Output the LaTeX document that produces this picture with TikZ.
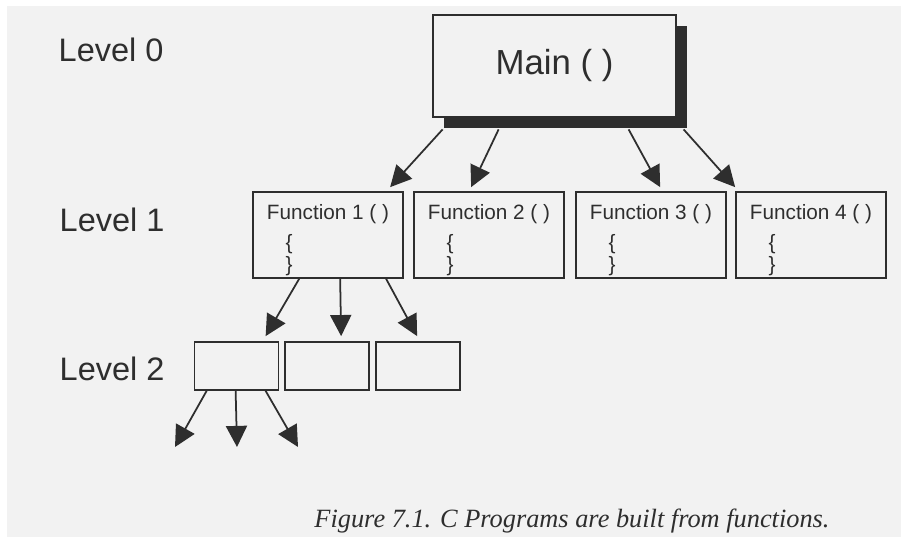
\documentclass[tikz,border=0pt]{standalone}
\usepackage{fontspec}
\setmainfont{Liberation Sans}
\newfontfamily\capfont{Liberation Serif}
\usetikzlibrary{arrows.meta}
\usetikzlibrary{shadows}
\definecolor{ink}{HTML}{2E2E2E}
\definecolor{paper}{HTML}{F2F2F2}
\tikzset{
  every picture/.style={
    line width=1pt, color=ink,
    >={Triangle[width=12pt, length=12pt]}
  },
  level/.style={
    anchor=base west, font=\fontsize{18.5}{22}\selectfont
  },
  mainbox/.style={
    draw, fill=paper, line width=1.6pt,
    minimum width=4.86cm, minimum height=2.04cm,
    text height=1em, text depth=0pt,
    general shadow={fill=ink, shadow xshift=0.22cm, shadow yshift=-0.22cm},
    font=\fontsize{19.8}{24}\selectfont
  },
  funcbox/.style={
    draw, minimum width=3cm, minimum height=1.72cm, inner ysep=0pt,
    align=left, font=\fontsize{11.8}{12.5}\selectfont
  },
  subbox/.style={
    draw, minimum width=1.68cm, minimum height=0.96cm
  },
  caption/.style={
    anchor=base, font=\capfont\itshape\fontsize{15}{18}\selectfont
  }
}
\begin{document}
\begin{tikzpicture}[x=0.02cm, y=-0.02cm]
  \useasboundingbox (0,0) rectangle (901,540);
  \fill[paper] (7,6) rectangle (901,537);
  \node[level] (l0) at (52,62) {Level 0};
  \node[level] (l1) at (53,232) {Level 1};
  \node[level] (l2) at (53,380) {Level 2};
  \node[mainbox] (main) at (554.5,66) {Main ( )};
  \foreach \i/\x in {1/328,2/489,3/651,4/811}
    \node[funcbox] (f\i) at (\x,235) {\rule{0pt}{14.5pt}Function \i{} ( )\\[5pt]\hspace*{0.9em}\{\\\hspace*{0.9em}\}};
  \foreach \i/\x in {1/236.5,2/327,3/418}
    \node[subbox] (g\i) at (\x,366) {};
  \foreach \s/\e/\f in {11/138/1,67/58/2,197/85/3,252/0/4}
    \draw[->] ([shift={(\s,11)}]main.south west) -- ([shift={(\e,-4)}]f\f.north west);
  \foreach \s/\e/\g in {47/72/1,88/57/2,134/42/3}
    \draw[->] ([shift={(\s,0)}]f1.south west) -- ([shift={(\e,-5)}]g\g.north west);
  \coordinate (e1) at (175,447);
  \coordinate (e2) at (237,447);
  \coordinate (e3) at (298,447);
  \foreach \s/\i in {13/1,42/2,72/3}
    \draw[->] ([shift={(\s,0)}]g1.south west) -- (e\i);
  \node[caption] (cap) at (572,527) {Figure 7.1. C Programs are built from functions.};
\end{tikzpicture}
\end{document}
